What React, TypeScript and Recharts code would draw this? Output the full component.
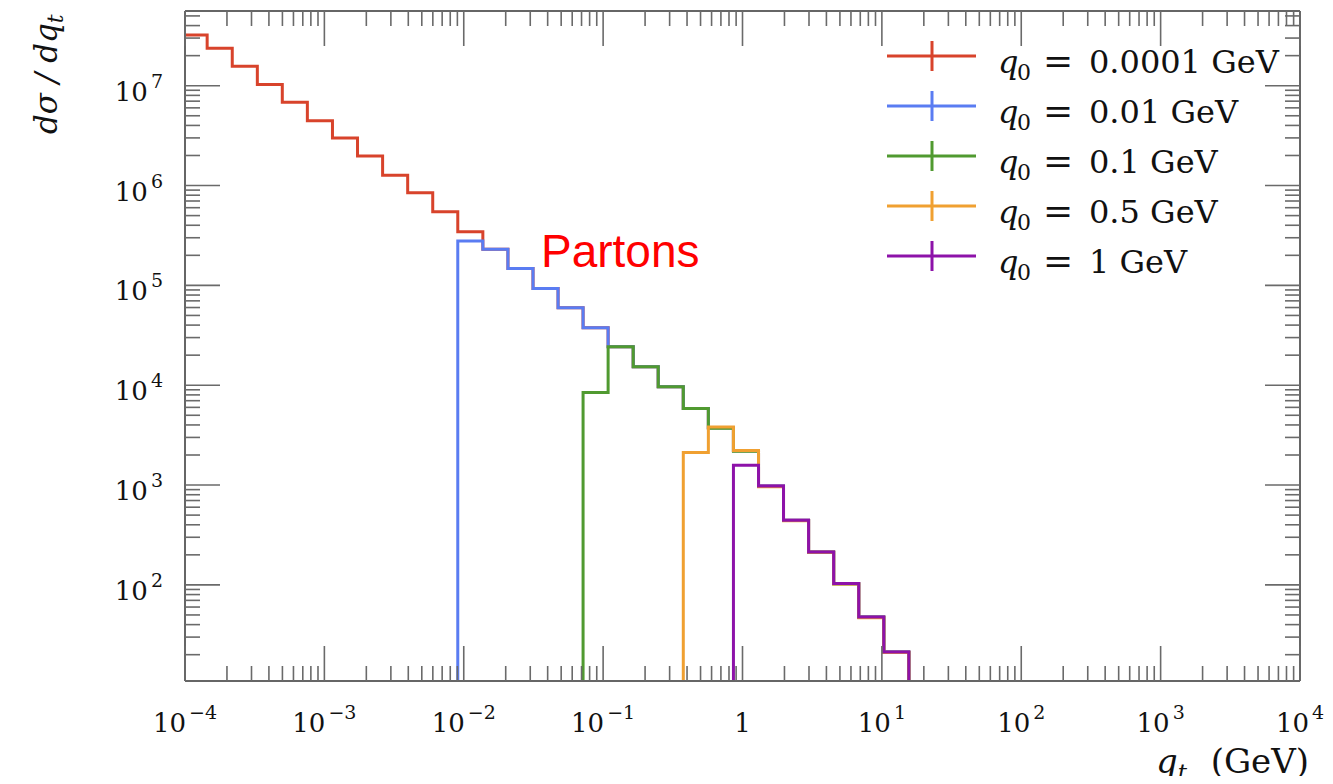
import { LineChart, Line, XAxis, YAxis } from "recharts";

const W = 1317;
const H = 768;

// histogram bin edges in q_t (GeV); the first one is the left end of the axis
const binEdges = [
  1e-4, 1.442e-4, 2.183e-4, 3.304e-4, 4.99e-4, 7.55e-4, 1.143e-3, 1.729e-3,
  2.617e-3, 3.96e-3, 5.99e-3, 9.06e-3, 0.01371, 0.02075, 0.0314, 0.0475,
  0.0718, 0.1086, 0.1644, 0.2485, 0.376, 0.569, 0.861, 1.303, 1.969, 2.979,
  4.508, 6.82, 10.32, 15.61,
];

// dσ/dq_t per bin, one list per cut-off
const q0_00001 = [
  3.22e7, 2.37e7, 1.57e7, 1.03e7, 6.82e6, 4.46e6, 2.99e6, 1.98e6, 1.27e6,
  8.47e5, 5.46e5, 3.44e5, 2.3e5, 1.48e5, 9.33e4, 5.97e4, 3.76e4, 2.43e4,
  1.53e4, 9.64e3, 5.86e3, 3.76e3, 2.2e3, 976, 445, 214, 103, 47.8, 21.3,
];
const q0_001 = [
  2.78e5, 2.3e5, 1.48e5, 9.33e4, 5.97e4, 3.76e4, 2.43e4, 1.53e4, 9.64e3,
  5.86e3, 3.76e3, 2.2e3, 976, 445, 214, 103, 47.8, 21.3,
];
const q0_01 = [8.47e3, 2.43e4, 1.53e4, 9.64e3, 5.86e3, 3.7e3, 2.18e3, 970, 442, 212, 102, 47.5, 21.2];
const q0_05 = [2.12e3, 3.82e3, 2.22e3, 960, 440, 212, 102, 47, 21];
const q0_1 = [1.58e3, 976, 445, 214, 103, 47.8, 21.3];

const cutLabels = ["0.0001", "0.01", "0.1", "0.5", "1"];
const firstBins = [0, 11, 16, 20, 22];

const xDecades = [-4, -3, -2, -1, 0, 1, 2, 3, 4];
const yDecades = [1, 2, 3, 4, 5, 6, 7];
const minorSteps = [2, 3, 4, 5, 6, 7, 8, 9];

const X_DOMAIN: [number, number] = [1e-4, 1e4];
const Y_DOMAIN: [number, number] = [10.9, 5.6e7];
const FLOOR = 1; // below the y range, so each histogram drops to the axis

const series = [
  { values: q0_00001, color: "#d8432b" },
  { values: q0_001, color: "#5a7cf2" },
  { values: q0_01, color: "#509a30" },
  { values: q0_05, color: "#f0a031" },
  { values: q0_1, color: "#8d12a9" },
].map((s, i) => ({ ...s, label: cutLabels[i], first: firstBins[i] }));

function toSteps(first: number, values: number[], fromAxis: boolean) {
  const pts = values.map((v, i) => ({ q: binEdges[first + i], v }));
  const end = { q: binEdges[first + values.length], v: FLOOR };
  return fromAxis ? [{ q: binEdges[first], v: FLOOR }, ...pts, end] : [...pts, end];
}

const withMinors = (decades: number[], lo: number, hi: number) =>
  decades
    .flatMap((d) => [10 ** d, ...minorSteps.map((m) => m * 10 ** d)])
    .filter((v) => v >= lo * 0.999 && v <= hi * 1.001);

const xTicks = withMinors(xDecades, X_DOMAIN[0], X_DOMAIN[1]);
const yTicks = withMinors(yDecades, Y_DOMAIN[0], Y_DOMAIN[1]);

const isMajor = (v: number) => {
  const l = Math.log10(v);
  return Math.abs(l - Math.round(l)) < 1e-6;
};

const SERIF = "DejaVu Serif";
const TICK_COLOR = "#6a6a6a";

function powerLabel(v: number, x: number, y: number, anchor: "middle" | "end") {
  const e = Math.round(Math.log10(v));
  if (e === 0) {
    return (
      <text x={x} y={y} textAnchor={anchor} fontFamily={SERIF} fontSize={26} fill="#111">
        1
      </text>
    );
  }
  return (
    <text x={x} y={y} textAnchor={anchor} fontFamily={SERIF} fontSize={26} fill="#111">
      <tspan>10</tspan>
      <tspan dx={3} dy={-13} fontSize={19}>
        {e < 0 ? `\u2212${-e}` : `${e}`}
      </tspan>
    </text>
  );
}

const makeTick = (side: "bottom" | "top" | "left" | "right") => (props: any) => {
  const { x, y, payload } = props;
  const v = payload.value as number;
  const major = isMajor(v);
  const len = major ? 35 : 15;
  let line;
  if (side === "bottom") line = <line x1={x} x2={x} y1={y} y2={y - len} />;
  else if (side === "top") line = <line x1={x} x2={x} y1={y} y2={y + len} />;
  else if (side === "left") line = <line x1={x} x2={x + len} y1={y} y2={y} />;
  else line = <line x1={x} x2={x - len} y1={y} y2={y} />;
  return (
    <g>
      <g stroke={TICK_COLOR} strokeWidth={1.6}>{line}</g>
      {major && side === "bottom" && powerLabel(v, x, y + 51, "middle")}
      {major && side === "left" && powerLabel(v, x - 22, y + 15, "end")}
    </g>
  );
};

const axisLine = { stroke: "#666", strokeWidth: 2 };

export default function App() {
  return (
    <div style={{ position: "relative", width: W, height: H }}>
      <LineChart width={W} height={H} margin={{ top: 2, right: 24, bottom: 35, left: 97 }}>
        <XAxis
          xAxisId="bottom"
          dataKey="q"
          type="number"
          scale="log"
          domain={X_DOMAIN}
          allowDataOverflow
          ticks={xTicks}
          interval={0}
          tick={makeTick("bottom")}
          tickLine={false}
          tickSize={0}
          tickMargin={0}
          axisLine={axisLine}
          height={60}
        />
        <XAxis
          xAxisId="top"
          orientation="top"
          dataKey="q"
          type="number"
          scale="log"
          domain={X_DOMAIN}
          allowDataOverflow
          ticks={xTicks}
          interval={0}
          tick={makeTick("top")}
          tickLine={false}
          tickSize={0}
          tickMargin={0}
          axisLine={axisLine}
          height={1}
        />
        <YAxis
          yAxisId="left"
          type="number"
          scale="log"
          domain={Y_DOMAIN}
          allowDataOverflow
          ticks={yTicks}
          interval={0}
          tick={makeTick("left")}
          tickLine={false}
          tickSize={0}
          tickMargin={0}
          axisLine={axisLine}
          width={80}
        />
        <YAxis
          yAxisId="right"
          orientation="right"
          type="number"
          scale="log"
          domain={Y_DOMAIN}
          allowDataOverflow
          ticks={yTicks}
          interval={0}
          tick={makeTick("right")}
          tickLine={false}
          tickSize={0}
          tickMargin={0}
          axisLine={axisLine}
          width={1}
        />
        {series.map((s, i) => (
          <Line
            key={s.label}
            xAxisId="bottom"
            yAxisId="left"
            data={toSteps(s.first, s.values, i > 0)}
            dataKey="v"
            type="stepAfter"
            stroke={s.color}
            strokeWidth={3}
            dot={false}
            activeDot={false}
            isAnimationActive={false}
          />
        ))}
      </LineChart>

      <svg
        width={W}
        height={H}
        style={{ position: "absolute", left: 0, top: 0, overflow: "visible", pointerEvents: "none" }}
      >
        {series.map((s, i) => {
          const y = 48 + i * 50;
          return (
            <g key={s.label}>
              <line x1={879} x2={968} y1={y} y2={y} stroke={s.color} strokeWidth={3} />
              <line x1={924} x2={924} y1={y - 15} y2={y + 15} stroke={s.color} strokeWidth={3} />
              <text y={y + 17} fontFamily={SERIF} fontSize={32} fill="#111">
                <tspan x={990} fontStyle="italic">q</tspan>
                <tspan x={1009} dy={7} fontSize={22}>0</tspan>
                <tspan x={1035} dy={-7} fontSize={36}>=</tspan>
                <tspan x={1081}>{s.label} GeV</tspan>
              </text>
            </g>
          );
        })}

        <text x={533} y={259} fontFamily="Liberation Sans, Arial, sans-serif" fontSize={46} fill="#ff0000">
          Partons
        </text>

        <text
          x={49}
          y={126}
          transform="rotate(-90, 49, 126)"
          fontFamily={SERIF}
          fontStyle="italic"
          fontSize={31}
          fill="#111"
        >
          <tspan>dσ / dq</tspan>
          <tspan dy={6} fontSize={22}>t</tspan>
        </text>

        <text x={1148} y={765} fontFamily={SERIF} fontStyle="italic" fontSize={34} fill="#111">
          <tspan>q</tspan>
          <tspan dy={7} fontSize={23}>t</tspan>
        </text>
        <text x={1301} y={765} textAnchor="end" fontFamily={SERIF} fontSize={34} fill="#111">
          (GeV)
        </text>
      </svg>
    </div>
  );
}
